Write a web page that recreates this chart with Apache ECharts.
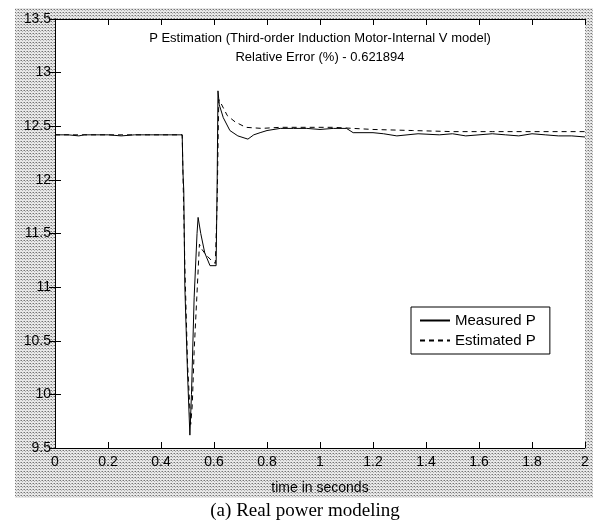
<!DOCTYPE html>
<html>
<head>
<meta charset="utf-8">
<script src="https://cdn.jsdelivr.net/npm/echarts@6/dist/echarts.min.js"></script>
<style>
  html, body { margin: 0; padding: 0; background: #fff; }
  #chart { width: 597px; height: 524px; }
</style>
</head>
<body>
<div id="chart"></div>
<script>
// measured power (solid)
var measuredT = [0, 0.05, 0.09, 0.11, 0.2, 0.25, 0.3, 0.35, 0.4, 0.48, 0.483, 0.486, 0.49, 0.5, 0.509,
  0.515, 0.525, 0.536, 0.54, 0.55, 0.565, 0.585, 0.608, 0.612, 0.615, 0.62, 0.635, 0.66, 0.69, 0.728,
  0.75, 0.774, 0.8, 0.85, 0.9, 0.95, 1.0, 1.05, 1.1, 1.125, 1.2, 1.24, 1.29, 1.37, 1.45, 1.5, 1.55,
  1.6, 1.65, 1.7, 1.75, 1.8, 1.85, 1.9, 1.95, 2.0];
var measuredP = [12.42, 12.42, 12.41, 12.42, 12.42, 12.41, 12.42, 12.42, 12.42, 12.42, 12.06, 11.9, 11.0, 10.2, 9.62,
  10.0, 10.9, 11.5, 11.65, 11.5, 11.32, 11.2, 11.2, 12.0, 12.83, 12.7, 12.58, 12.46, 12.41, 12.38,
  12.42, 12.44, 12.46, 12.48, 12.48, 12.48, 12.47, 12.48, 12.48, 12.44, 12.44, 12.43, 12.41, 12.43, 12.42, 12.43, 12.41,
  12.42, 12.43, 12.42, 12.41, 12.43, 12.42, 12.41, 12.41, 12.40];

// estimated power (dashed)
var estimatedT = [0, 0.2, 0.4, 0.48, 0.483, 0.49, 0.5, 0.512, 0.518, 0.525, 0.535, 0.545, 0.555, 0.57,
  0.59, 0.605, 0.612, 0.618, 0.625, 0.65, 0.68, 0.72, 0.78, 0.85, 0.95, 1.05, 1.2, 1.35, 1.5, 1.65, 1.8, 2.0];
var estimatedP = [12.42, 12.42, 12.42, 12.42, 12.05, 11.2, 10.3, 9.72, 9.9, 10.4, 10.9, 11.4, 11.35, 11.3,
  11.25, 11.22, 11.8, 12.75, 12.72, 12.6, 12.54, 12.49, 12.48, 12.49, 12.49, 12.49, 12.47, 12.46, 12.45, 12.45, 12.45, 12.45];

var titleLines = ['P Estimation (Third-order Induction Motor-Internal V model)', 'Relative Error (%) - 0.621894'];
var seriesNames = ['Measured P', 'Estimated P'];

function pairs(xs, ys) {
  return xs.map(function (x, i) { return [x, ys[i]]; });
}

// dotted grey backdrop like the scanned figure
var dot = document.createElement('canvas');
dot.width = 3; dot.height = 3;
var dctx = dot.getContext('2d');
dctx.fillStyle = '#e8e8e8';
dctx.fillRect(0, 0, 3, 3);
dctx.fillStyle = '#747474';
dctx.fillRect(0, 0, 1, 1);
dctx.fillStyle = '#b0b0b0';
dctx.fillRect(1, 1, 1, 1);
dctx.fillRect(2, 0, 1, 1);

var font = 'Liberation Sans, Arial, sans-serif';
// ticks point into the plot box on every side
var tick = { show: true, inside: true, length: 6, lineStyle: { color: '#000', width: 1 } };
var line = { show: true, lineStyle: { color: '#000', width: 1 } };

var chart = echarts.init(document.getElementById('chart'));
chart.setOption({
  backgroundColor: '#fff',
  animation: false,
  grid: {
    left: 55, top: 19, right: 12, bottom: 76,
    show: true, backgroundColor: '#fff', borderWidth: 0
  },
  legend: {
    orient: 'vertical',
    left: 411, top: 307,
    padding: [6, 14, 6, 8],
    itemGap: 5,
    itemWidth: 30, itemHeight: 12,
    backgroundColor: '#fff',
    borderColor: '#000', borderWidth: 1,
    itemStyle: { opacity: 0 },
    textStyle: { fontFamily: font, fontSize: 15, color: '#000' },
    data: seriesNames
  },
  xAxis: [{
    type: 'value', min: 0, max: 2, interval: 0.2, z: 5,
    name: 'time in seconds', nameLocation: 'middle', nameGap: 33,
    nameTextStyle: { fontFamily: font, fontSize: 14, color: '#000' },
    axisLine: line,
    axisTick: tick,
    axisLabel: { fontFamily: font, fontSize: 14, color: '#000', margin: 7 },
    splitLine: { show: false }
  }, {
    type: 'value', min: 0, max: 2, interval: 0.2, position: 'top', z: 5,
    axisLine: line,
    axisTick: tick,
    axisLabel: { show: false },
    splitLine: { show: false }
  }],
  yAxis: [{
    type: 'value', min: 9.5, max: 13.5, interval: 0.5, z: 5,
    axisLine: line,
    axisTick: tick,
    axisLabel: { fontFamily: font, fontSize: 14, color: '#000', margin: 4 },
    splitLine: { show: false }
  }, {
    type: 'value', min: 9.5, max: 13.5, interval: 0.5, position: 'right', z: 5,
    axisLine: line,
    axisTick: tick,
    axisLabel: { show: false },
    splitLine: { show: false }
  }],
  graphic: [
    {
      type: 'rect', z: -10,
      shape: { x: 15, y: 8, width: 578, height: 490 },
      style: { fill: { image: dot, repeat: 'repeat' } }
    },
    {
      type: 'text', z: 10, x: 320, y: 38,
      style: { text: titleLines[0], fontFamily: font, fontSize: 13, fill: '#000', textAlign: 'center', textVerticalAlign: 'middle' }
    },
    {
      type: 'text', z: 10, x: 320, y: 57,
      style: { text: titleLines[1], fontFamily: font, fontSize: 13, fill: '#000', textAlign: 'center', textVerticalAlign: 'middle' }
    },
    {
      type: 'text', z: 10, x: 305, y: 511,
      style: { text: '(a) Real power modeling', fontFamily: 'Liberation Serif, Times New Roman, serif', fontSize: 19, fill: '#000', textAlign: 'center', textVerticalAlign: 'middle' }
    }
  ],
  series: [{
    name: seriesNames[0],
    type: 'line',
    data: pairs(measuredT, measuredP),
    symbol: 'none', showSymbol: false,
    lineStyle: { color: '#000', width: 1 },
    itemStyle: { color: '#000' },
    z: 3
  }, {
    name: seriesNames[1],
    type: 'line',
    data: pairs(estimatedT, estimatedP),
    symbol: 'none', showSymbol: false,
    lineStyle: { color: '#000', width: 1, type: [5, 4] },
    itemStyle: { color: '#000' },
    z: 3
  }]
});
</script>
</body>
</html>
